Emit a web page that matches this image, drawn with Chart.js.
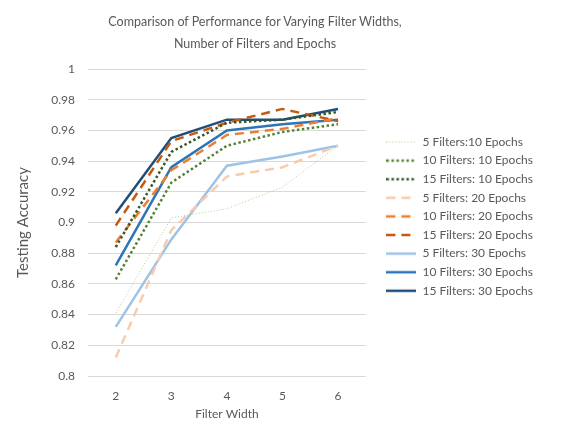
<!DOCTYPE html>
<html>
<head>
<meta charset="utf-8">
<script src="https://cdn.jsdelivr.net/npm/chart.js@4"></script>
<style>
  html, body { margin: 0; padding: 0; background: #fff; }
  #wrap { position: relative; width: 578px; height: 427px; }
  #titre {
    position: absolute; left: 0; top: 11px; width: 510px;
    text-align: center; font-family: Lato, sans-serif; font-size: 12.5px;
    line-height: 22px; color: #595959;
  }
  canvas { position: absolute; left: 0; top: 0; }
</style>
</head>
<body>
<div id="wrap">
  <canvas id="accuracyChart" width="578" height="427"></canvas>
  <div id="titre">Comparison of Performance for Varying Filter Widths,<br>Number of Filters and Epochs</div>
</div>
<script>
// Largeurs de filtre (axe x)
const filterWidths = ['2', '3', '4', '5', '6'];

// Précision de test par configuration
const f5e10  = [0.841, 0.903, 0.909, 0.923, 0.950];
const f10e10 = [0.863, 0.926, 0.950, 0.959, 0.964];
const f15e10 = [0.884, 0.946, 0.965, 0.967, 0.972];
const f5e20  = [0.812, 0.895, 0.930, 0.936, 0.950];
const f10e20 = [0.887, 0.934, 0.957, 0.961, 0.968];
const f15e20 = [0.898, 0.953, 0.965, 0.974, 0.966];
const f5e30  = [0.832, 0.889, 0.937, 0.943, 0.950];
const f10e30 = [0.872, 0.936, 0.960, 0.964, 0.967];
const f15e30 = [0.906, 0.955, 0.967, 0.967, 0.974];

const textColor = '#595959';
const font = 'Lato, sans-serif';

function serie(label, data, color, width, dash) {
  return {
    label: label,
    data: data,
    borderColor: color,
    backgroundColor: color,
    borderWidth: width,
    borderDash: dash,
    pointRadius: 0,
    pointHoverRadius: 0,
    tension: 0,
    fill: false
  };
}

const datasets = [
  serie('5 Filters:10 Epochs', f5e10, '#A9D18E', 1, [1, 2]),
  serie('10 Filters: 10 Epochs', f10e10, '#548235', 2.5, [2.5, 2.5]),
  serie('15 Filters: 10 Epochs', f15e10, '#385723', 2.5, [2.5, 2.5]),
  serie('5 Filters: 20 Epochs', f5e20, '#F8CBAD', 2.5, [9, 6]),
  serie('10 Filters: 20 Epochs', f10e20, '#ED7D31', 2.5, [9, 6]),
  serie('15 Filters: 20 Epochs', f15e20, '#C55A11', 2.5, [9, 6]),
  serie('5 Filters: 30 Epochs', f5e30, '#9DC3E6', 2.5, []),
  serie('10 Filters: 30 Epochs', f10e30, '#2E75B6', 2.5, []),
  serie('15 Filters: 30 Epochs', f15e30, '#1F4E79', 2.5, [])
];

// Petite image de ligne (avec tirets) pour la légende
function legendSample(ds) {
  const c = document.createElement('canvas');
  c.width = 30;
  c.height = 6;
  const g = c.getContext('2d');
  g.strokeStyle = ds.borderColor;
  g.lineWidth = ds.borderWidth;
  g.setLineDash(ds.borderDash);
  g.beginPath();
  g.moveTo(0, 3);
  g.lineTo(30, 3);
  g.stroke();
  return c;
}

const ctx = document.getElementById('accuracyChart').getContext('2d');
new Chart(ctx, {
  type: 'line',
  data: { labels: filterWidths, datasets: datasets },
  options: {
    responsive: false,
    animation: false,
    layout: { padding: { top: 69, left: 14, right: 35, bottom: 5 } },
    plugins: {
      title: { display: false },
      tooltip: { enabled: false },
      legend: {
        position: 'right',
        align: 'start',
        maxWidth: 220,
        title: { display: true, text: ' ', font: { size: 12 }, padding: { top: 46, bottom: 0 } },
        labels: {
          color: textColor,
          font: { family: font, size: 12 },
          usePointStyle: true,
          pointStyleWidth: 30,
          padding: 6.6,
          generateLabels: function(chart) {
            const items = Chart.defaults.plugins.legend.labels.generateLabels(chart);
            items.forEach(item => {
              item.pointStyle = legendSample(chart.data.datasets[item.datasetIndex]);
            });
            return items;
          }
        }
      }
    },
    scales: {
      x: {
        offset: true,
        grid: { display: false, drawTicks: false },
        border: { display: false },
        ticks: { color: textColor, font: { family: font, size: 12 }, padding: 13 },
        title: { display: true, text: 'Filter Width', color: textColor, font: { family: font, size: 12 }, padding: { top: 4, bottom: 1 } },
        afterFit: function(scale) { scale.height = 46; }
      },
      y: {
        min: 0.8,
        max: 1,
        grid: { color: '#D9D9D9', lineWidth: 1, drawTicks: false },
        border: { display: false },
        ticks: {
          stepSize: 0.02,
          color: textColor,
          font: { family: font, size: 12 },
          padding: 13,
          callback: function(v) { return String(parseFloat(v.toFixed(2))); }
        },
        title: { display: true, text: 'Testing Accuracy', color: textColor, font: { family: font, size: 15 }, padding: { top: 0, bottom: 20 } },
        afterFit: function(scale) { scale.width = 74; }
      },
      espace: {
        type: 'linear',
        position: 'right',
        grid: { display: false, drawTicks: false },
        border: { display: false },
        ticks: { display: false },
        afterFit: function(scale) { scale.width = 14; }
      }
    }
  }
});
</script>
</body>
</html>
